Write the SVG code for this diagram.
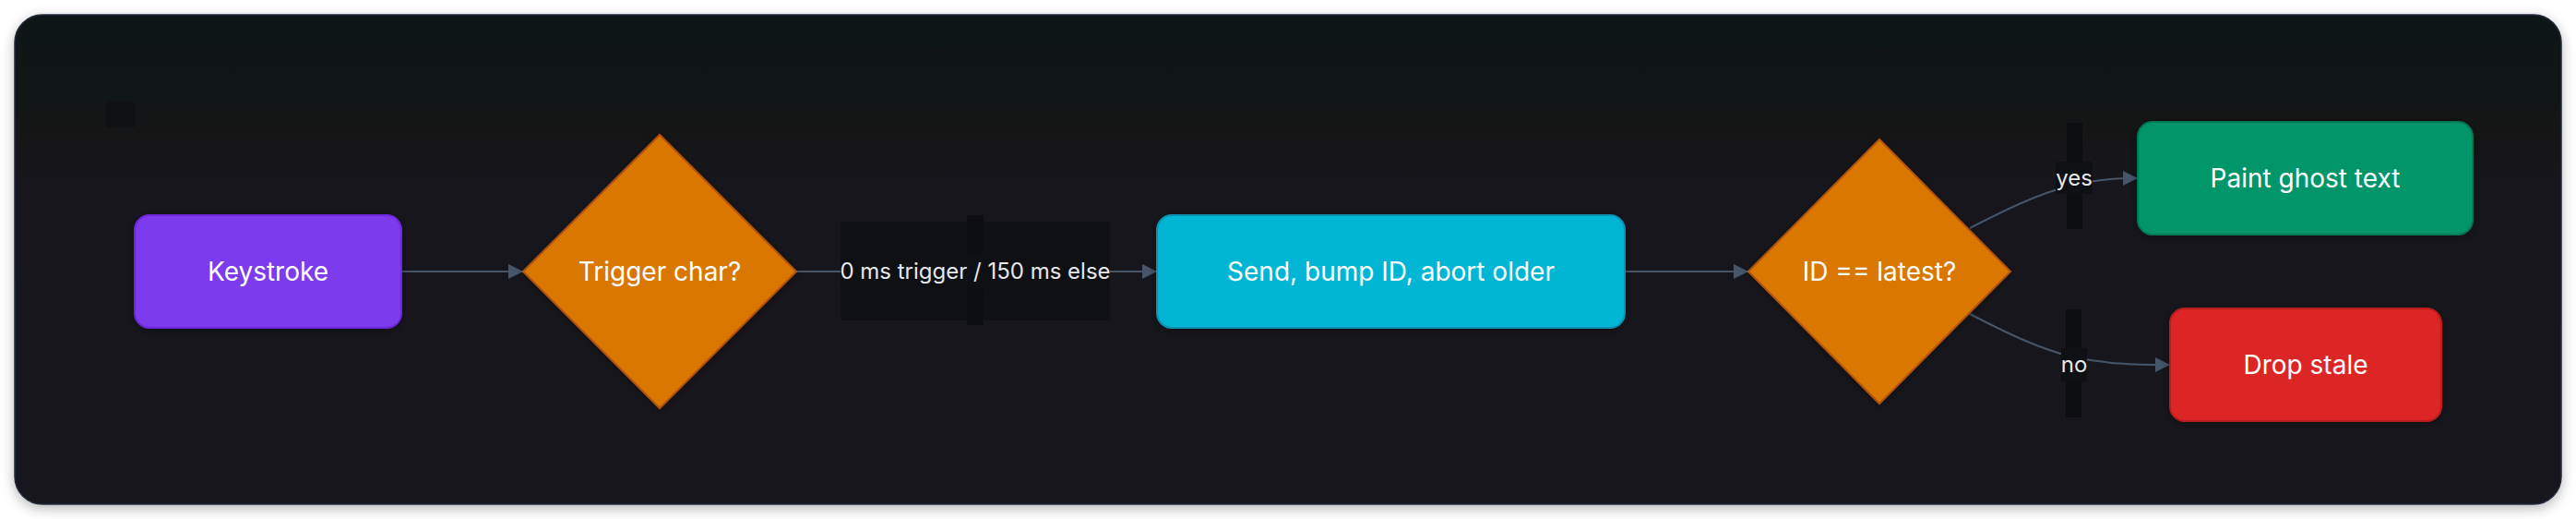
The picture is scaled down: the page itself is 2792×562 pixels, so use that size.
<svg xmlns="http://www.w3.org/2000/svg" width="2792" height="562" viewBox="0 0 2792 562">
  <style>
    .node-label { font-family: Inter, "Noto Sans", "Liberation Sans", sans-serif; font-size: 28px; fill: #ffffff; text-anchor: middle; }
    .edge-label { font-family: Inter, "Noto Sans", "Liberation Sans", sans-serif; font-size: 24px; fill: #e5e7eb; text-anchor: middle; }
    .edge { fill: none; stroke: #475569; stroke-width: 2; }
    .lbl-strip { fill: #0d0e11; }
    .lbl-bg { fill: #0f1014; }
  </style>
  <defs>
    <linearGradient id="cardGrad" x1="0" y1="0" x2="0" y2="1">
      <stop offset="0" stop-color="#111217"/>
      <stop offset="1" stop-color="#14151f"/>
    </linearGradient>
    <filter id="cardShadow" x="-5%" y="-20%" width="110%" height="140%">
      <feDropShadow dx="0" dy="4" stdDeviation="7" flood-color="#000000" flood-opacity="0.28"/>
    </filter>
    <filter id="nodeShadow" x="-20%" y="-30%" width="140%" height="160%">
      <feDropShadow dx="0" dy="2" stdDeviation="5" flood-color="#000000" flood-opacity="0.35"/>
    </filter>
    <marker id="arrow" viewBox="0 0 16 16" refX="16" refY="8" markerWidth="16" markerHeight="16" markerUnits="userSpaceOnUse" orient="auto">
      <path d="M0,0 L16,8 L0,16 z" fill="#475569"/>
    </marker>
  </defs>

  <rect x="0" y="0" width="2792" height="562" fill="#ffffff"/>
  <rect x="16" y="16" width="2760" height="530" rx="30" ry="30" fill="url(#cardGrad)" stroke="#222b3a" stroke-width="1.5" filter="url(#cardShadow)"/>
  <rect x="115" y="110" width="32" height="28" fill="#101115"/>

  <g id="connectors">
    <path class="edge" d="M435,294 L567,294" marker-end="url(#arrow)"/>
    <path class="edge" d="M863,294 L1254,294" marker-end="url(#arrow)"/>
    <path class="edge" d="M1761,294 L1895,294" marker-end="url(#arrow)"/>
    <path class="edge" d="M2135,247 C2170,229 2210,209 2245,201 C2280,193 2300,193 2317,193" marker-end="url(#arrow)"/>
    <path class="edge" d="M2135,340 C2170,358 2210,378 2245,386 C2280,394 2310,395 2352,395" marker-end="url(#arrow)"/>

    <g id="label-trigger">
      <rect x="911" y="240" width="292" height="107" fill="#101116"/>
      <rect class="lbl-strip" x="1048" y="233" width="18" height="119"/>
      <rect class="lbl-bg" x="911" y="275" width="292" height="38"/>
      <text class="edge-label" x="1057" y="302">0 ms trigger / 150 ms else</text>
    </g>
    <g id="label-yes">
      <rect class="lbl-strip" x="2240" y="133" width="17" height="115"/>
      <rect class="lbl-bg" x="2228" y="175" width="40" height="35"/>
      <text class="edge-label" x="2248" y="201">yes</text>
    </g>
    <g id="label-no">
      <rect class="lbl-strip" x="2239" y="335" width="17" height="117"/>
      <rect class="lbl-bg" x="2234" y="377" width="28" height="36"/>
      <text class="edge-label" x="2248" y="403">no</text>
    </g>
  </g>

  <g id="node-keystroke">
    <rect x="146" y="233" width="289" height="122" rx="16" ry="16" fill="#7c3aed" stroke="#6d28d9" stroke-width="2" filter="url(#nodeShadow)"/>
    <text class="node-label" x="290.5" y="304">Keystroke</text>
  </g>

  <g id="node-trigger">
    <polygon points="567,294 715,146 863,294 715,442" fill="#d97706" stroke="#b45309" stroke-width="2" filter="url(#nodeShadow)"/>
    <text class="node-label" x="715" y="304">Trigger char?</text>
  </g>

  <g id="node-send">
    <rect x="1254" y="233" width="507" height="122" rx="16" ry="16" fill="#06b6d4" stroke="#0891b2" stroke-width="2" filter="url(#nodeShadow)"/>
    <text class="node-label" x="1507.5" y="304">Send, bump ID, abort older</text>
  </g>

  <g id="node-latest">
    <polygon points="1895,294 2037,151 2179,294 2037,437" fill="#d97706" stroke="#b45309" stroke-width="2" filter="url(#nodeShadow)"/>
    <text class="node-label" x="2037" y="304">ID == latest?</text>
  </g>

  <g id="node-paint">
    <rect x="2317" y="132" width="363" height="122" rx="16" ry="16" fill="#059669" stroke="#047857" stroke-width="2" filter="url(#nodeShadow)"/>
    <text class="node-label" x="2498.5" y="203">Paint ghost text</text>
  </g>

  <g id="node-drop">
    <rect x="2352" y="334" width="294" height="122" rx="16" ry="16" fill="#dc2626" stroke="#b91c1c" stroke-width="2" filter="url(#nodeShadow)"/>
    <text class="node-label" x="2499" y="405">Drop stale</text>
  </g>
</svg>
